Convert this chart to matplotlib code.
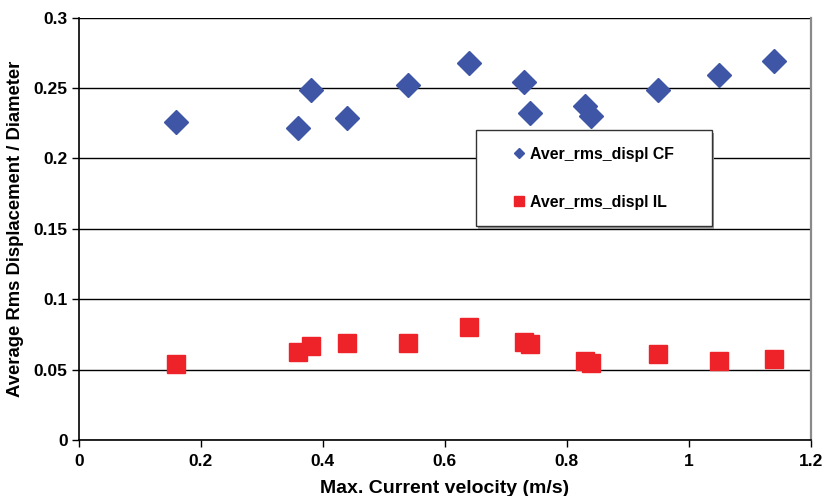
import matplotlib
matplotlib.use("Agg")
import matplotlib.pyplot as plt
from matplotlib.patches import Rectangle

plt.rcParams['font.family'] = ['Liberation Sans', 'DejaVu Sans']
plt.rcParams['font.weight'] = 'bold'

velocity = [0.16, 0.36, 0.38, 0.44, 0.54, 0.64, 0.73, 0.74, 0.83, 0.84, 0.95, 1.05, 1.14]
cf_displ = [0.2256, 0.2214, 0.2488, 0.2287, 0.2523, 0.2679, 0.2542, 0.2324, 0.2371, 0.2300, 0.2488, 0.2592, 0.2691]
il_displ = [0.0541, 0.0624, 0.0666, 0.0692, 0.0692, 0.0806, 0.0697, 0.0685, 0.0562, 0.0550, 0.0612, 0.0562, 0.0574]

xticks = [0, 0.2, 0.4, 0.6, 0.8, 1, 1.2]
xtick_labels = ['0', '0.2', '0.4', '0.6', '0.8', '1', '1.2']
yticks = [0, 0.05, 0.1, 0.15, 0.2, 0.25, 0.3]
ytick_labels = ['0', '0.05', '0.1', '0.15', '0.2', '0.25', '0.3']

fig = plt.figure(figsize=(8.25, 4.96), dpi=100)
ax = fig.add_axes([0.0954, 0.1125, 0.8873, 0.8522])

blue = '#3F56A6'
red = '#EE2229'

ax.plot(velocity, cf_displ, linestyle='none', marker='D', markersize=12,
        color=blue, markeredgecolor=blue, label='Aver_rms_displ CF', zorder=3)
ax.plot(velocity, il_displ, linestyle='none', marker='s', markersize=12.7,
        color=red, markeredgecolor=red, label='Aver_rms_displ IL', zorder=3)

ax.set_xlim(0, 1.2)
ax.set_ylim(0, 0.3)
ax.set_xticks(xticks)
ax.set_xticklabels(xtick_labels)
ax.set_yticks(yticks)
ax.set_yticklabels(ytick_labels)
ax.yaxis.grid(True, color='black', linewidth=1.0)
ax.set_axisbelow(True)
ax.tick_params(axis='both', labelsize=12.5, direction='out', length=5, width=1, colors='black')
ax.tick_params(axis='x', pad=5)
ax.tick_params(axis='y', pad=3)
for s in ['left', 'bottom']:
    ax.spines[s].set_color('black')
    ax.spines[s].set_linewidth(1.2)
ax.spines['right'].set_color('#8a8a8a')
ax.spines['right'].set_linewidth(1.6)
ax.spines['top'].set_visible(False)

ax.set_xlabel('Max. Current velocity (m/s)', fontsize=14, fontweight='bold', labelpad=8)
ax.set_ylabel('Average Rms Displacement / Diameter', fontsize=13.3, fontweight='bold', labelpad=7)

# legend box (frame drawn separately to match the wide padding)
x0, x1 = 0.5428, 0.8652
y0, y1 = 0.5067, 0.7339
ax.add_patch(Rectangle((x0 + 0.003, y0 - 0.006), x1 - x0, y1 - y0, transform=ax.transAxes,
                       facecolor='#9a9a9a', edgecolor='none', zorder=4))
ax.add_patch(Rectangle((x0, y0), x1 - x0, y1 - y0, transform=ax.transAxes,
                       facecolor='white', edgecolor='#333333', linewidth=1.0, zorder=5))

leg = ax.legend(loc='center left', bbox_to_anchor=(0.5929, 0.6196), fontsize=11.4,
                frameon=False, borderpad=0, labelspacing=2.1, handletextpad=0.3,
                handlelength=0.8, borderaxespad=0)
leg.set_zorder(6)
hs = leg.legend_handles
hs[0].set_markersize(5.2)
hs[1].set_markersize(7.2)
for t in leg.get_texts():
    t.set_fontweight('bold')

fig.savefig('out.png', dpi=100)
